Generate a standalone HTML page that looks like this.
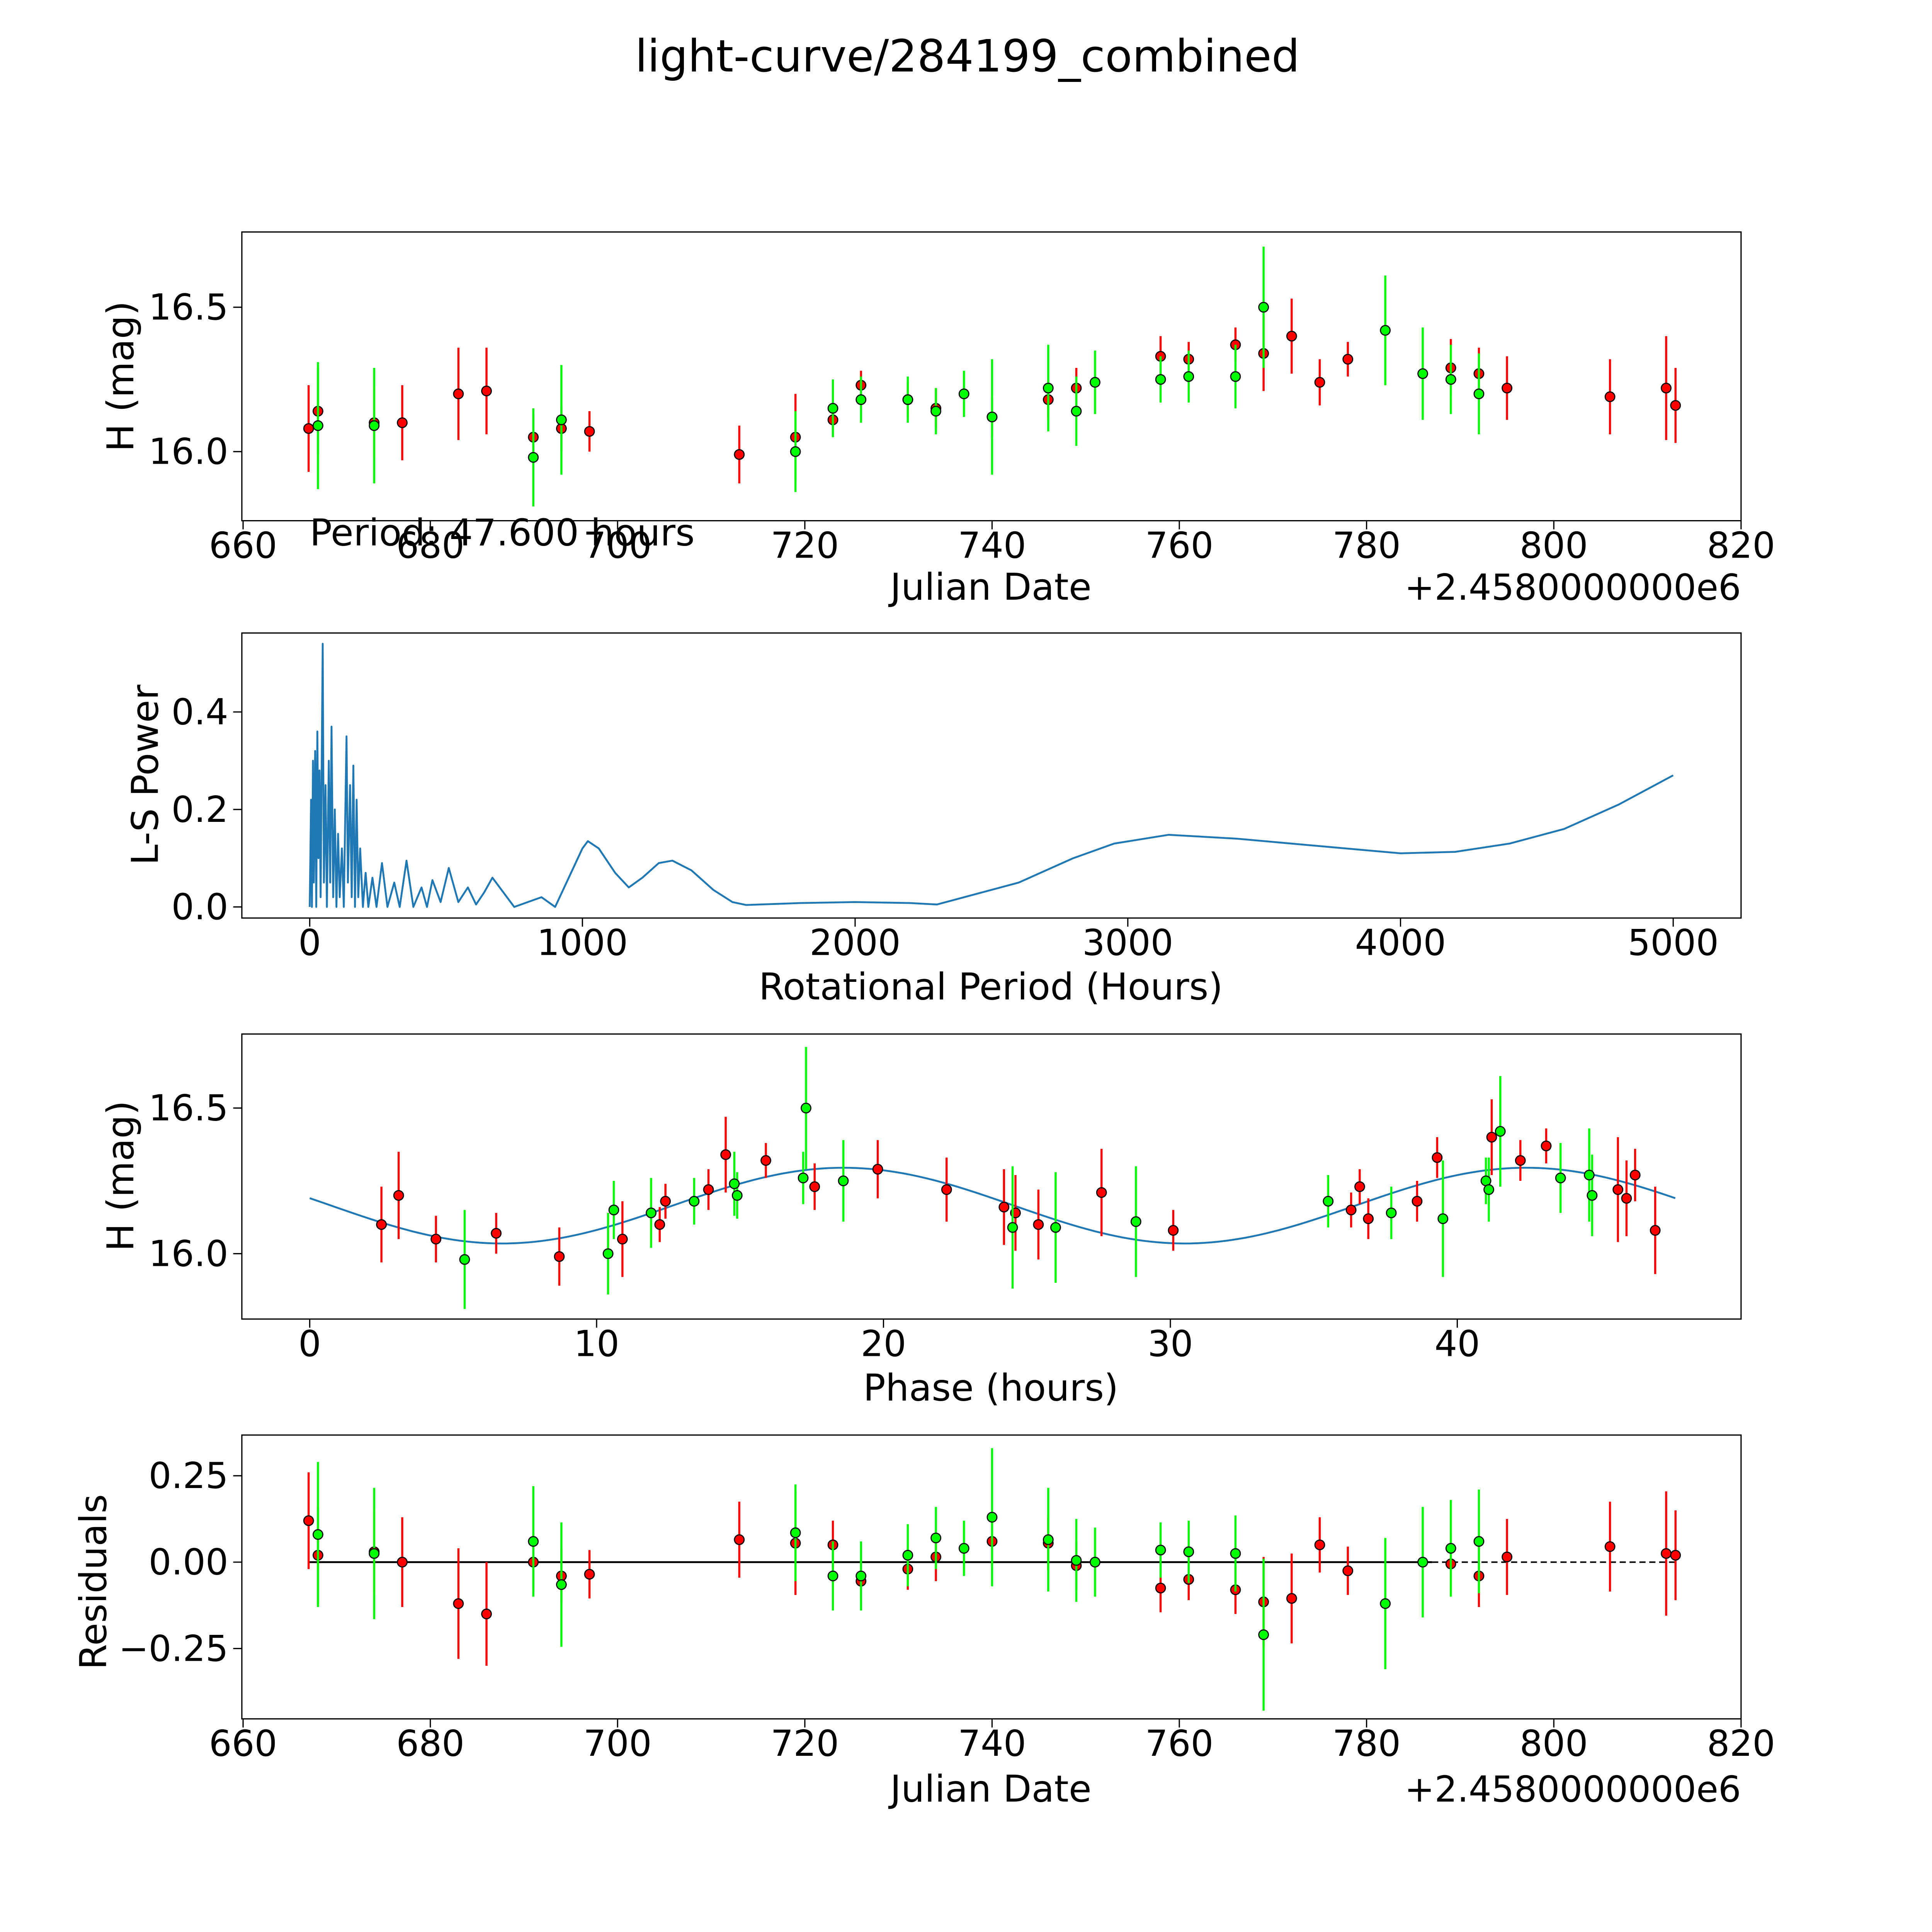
<!DOCTYPE html>
<html><head><meta charset="utf-8"><style>
html,body{margin:0;padding:0;background:#fff;overflow:hidden;width:5400px;height:5400px}
svg{display:block}
text{font-family:"DejaVu Sans","Liberation Sans",sans-serif;fill:#000}
</style></head><body>
<svg id="fig" width="5400" height="5400" viewBox="0 0 1691 1691" xmlns="http://www.w3.org/2000/svg">
<rect width="1691" height="1691" fill="#fff"/>
<text x="784" y="58" font-size="36" text-anchor="middle">light-curve/284199_combined</text>
</svg>
<script>
// ---- Data ----
const lcRed = [[667,16.08,0.15],[668,16.14,0.15],[674,16.1,0.12],[677,16.1,0.13],[683,16.2,0.16],[686,16.21,0.15],[691,16.05,0.08],[694,16.08,0.08],[697,16.07,0.07],[713,15.99,0.1],[719,16.05,0.15],[723,16.11,0.06],[726,16.23,0.05],[731,16.18,0.06],[734,16.15,0.07],[740,16.12,0.07],[746,16.18,0.07],[749,16.22,0.07],[758,16.33,0.07],[761,16.32,0.06],[766,16.37,0.06],[769,16.34,0.13],[772,16.4,0.13],[775,16.24,0.08],[778,16.32,0.06],[789,16.29,0.1],[792,16.27,0.09],[795,16.22,0.11],[806,16.19,0.13],[812,16.22,0.18],[813,16.16,0.13]];
const lcGreen = [[668,16.09,0.22],[674,16.09,0.2],[691,15.98,0.17],[694,16.11,0.19],[719,16.0,0.14],[723,16.15,0.1],[726,16.18,0.08],[731,16.18,0.08],[734,16.14,0.08],[737,16.2,0.08],[740,16.12,0.2],[746,16.22,0.15],[749,16.14,0.12],[751,16.24,0.11],[758,16.25,0.08],[761,16.26,0.09],[766,16.26,0.11],[769,16.5,0.21],[782,16.42,0.19],[786,16.27,0.16],[789,16.25,0.12],[792,16.2,0.14]];
const lsPeriod = [0,5,8,12,15,20,24,28,32,36,40,47.6,52,58,63,70,75,80,86,92,98,104,110,118,125,135,140,148,154,160,166,172,178,185,195,205,215,230,245,265,285,310,330,355,380,410,430,450,480,510,545,580,610,640,670,710,750,800,850,900,950,1000,1020,1060,1120,1170,1220,1280,1330,1400,1480,1550,1600,1800,2000,2200,2300,2400,2600,2800,2950,3150,3400,3700,4000,4200,4400,4600,4800,5000];
const lsPower = [0,0.22,0,0.3,0.05,0.32,0,0.36,0.1,0.28,0.02,0.54,0.05,0.25,0,0.3,0.05,0.37,0.02,0.2,0,0.15,0.02,0.12,0,0.35,0.05,0.25,0.02,0.29,0,0.22,0.02,0.12,0,0.07,0,0.06,0,0.09,0,0.05,0,0.095,0,0.04,0,0.055,0.01,0.08,0.01,0.04,0.005,0.03,0.06,0.03,0,0.01,0.02,0,0.06,0.12,0.135,0.12,0.07,0.04,0.06,0.09,0.095,0.075,0.035,0.01,0.004,0.008,0.01,0.008,0.005,0.02,0.05,0.1,0.13,0.148,0.14,0.125,0.11,0.113,0.13,0.16,0.21,0.27];
const phRed = [[2.5,16.1,0.13],[3.1,16.2,0.15],[4.4,16.05,0.08],[6.5,16.07,0.07],[8.7,15.99,0.1],[10.9,16.05,0.13],[12.2,16.1,0.06],[12.4,16.18,0.06],[13.9,16.22,0.07],[14.5,16.34,0.13],[15.9,16.32,0.06],[17.6,16.23,0.08],[19.8,16.29,0.1],[22.2,16.22,0.11],[24.2,16.16,0.13],[24.6,16.14,0.13],[25.4,16.1,0.12],[27.6,16.21,0.15],[30.1,16.08,0.07],[36.3,16.15,0.06],[36.6,16.23,0.06],[36.9,16.12,0.07],[38.6,16.18,0.07],[39.3,16.33,0.07],[41.2,16.4,0.13],[42.2,16.32,0.07],[43.1,16.37,0.06],[45.6,16.22,0.18],[45.9,16.19,0.13],[46.2,16.27,0.09],[46.9,16.08,0.15]];
const phGreen = [[5.4,15.98,0.17],[10.4,16.0,0.14],[10.6,16.15,0.1],[11.9,16.14,0.12],[13.4,16.18,0.08],[14.8,16.24,0.11],[14.9,16.2,0.08],[17.2,16.26,0.09],[17.3,16.5,0.21],[18.6,16.25,0.14],[24.5,16.09,0.21],[26.0,16.09,0.19],[28.8,16.11,0.19],[35.5,16.18,0.09],[37.7,16.14,0.09],[39.5,16.12,0.2],[41.0,16.25,0.08],[41.1,16.22,0.11],[41.5,16.42,0.19],[43.6,16.26,0.12],[44.6,16.27,0.16],[44.7,16.2,0.14]];
const fitParams = [16.165, 0.13, 23.8, 18.6]; // mean, amplitude, sub-period, peak phase
const fitPeriod = 47.6;
const resRed = [[667,0.12,0.14],[668,0.02,0.14],[674,0.03,0.12],[677,0.0,0.13],[683,-0.12,0.16],[686,-0.15,0.15],[691,0.0,0.08],[694,-0.04,0.08],[697,-0.035,0.07],[713,0.065,0.11],[719,0.055,0.15],[723,0.05,0.07],[726,-0.055,0.05],[731,-0.02,0.06],[734,0.015,0.07],[740,0.06,0.07],[746,0.055,0.08],[749,-0.01,0.07],[758,-0.075,0.07],[761,-0.05,0.06],[766,-0.08,0.07],[769,-0.115,0.13],[772,-0.105,0.13],[775,0.05,0.08],[778,-0.025,0.07],[789,-0.005,0.09],[792,-0.04,0.09],[795,0.015,0.11],[806,0.045,0.13],[812,0.025,0.18],[813,0.02,0.13]];
const resGreen = [[668,0.08,0.21],[674,0.025,0.19],[691,0.06,0.16],[694,-0.065,0.18],[719,0.085,0.14],[723,-0.04,0.1],[726,-0.04,0.1],[731,0.02,0.09],[734,0.07,0.09],[737,0.04,0.08],[740,0.13,0.2],[746,0.065,0.15],[749,0.005,0.12],[751,0.0,0.1],[758,0.035,0.08],[761,0.03,0.09],[766,0.025,0.11],[769,-0.21,0.22],[782,-0.12,0.19],[786,0.0,0.16],[789,0.04,0.14],[792,0.06,0.15]];
const jdTicks = [660,680,700,720,740,760,780,800,820];
const magTicks = [16.0,16.5];
const lsXTicks = [0,1000,2000,3000,4000,5000];
const lsYTicks = [0.0,0.2,0.4];
const phXTicks = [0,10,20,30,40];
const resYTicks = [-0.25,0.0,0.25];

const NS="http://www.w3.org/2000/svg";
const fig=document.getElementById('fig');
function mk(tag,attrs,parent){const e=document.createElementNS(NS,tag);for(const k in attrs)e.setAttribute(k,attrs[k]);(parent||fig).appendChild(e);return e;}
function lin(d0,d1,p0,p1){return v=>p0+(v-d0)*(p1-p0)/(d1-d0);}
const L=196,R=1411,TF=29,LF=30;

function axesBox(name,top,bot){
  const g=mk('g',{});
  
  
  return g;
}
function frame(g,top,bot){
  const r=mk('rect',{x:L,y:top,width:R-L,height:bot-top,fill:'none',stroke:'#000','stroke-width':1},g);
  
  
}
function xticks(g,ticks,sx,bot,fmt){
  ticks.forEach(t=>{const x=sx(t);
    mk('line',{x1:x,x2:x,y1:bot,y2:bot+7,stroke:'#000','stroke-width':1},g);
    const tx=mk('text',{x:x,y:bot+30,'font-size':TF,'text-anchor':'middle'},g);tx.textContent=fmt(t);
    
    });
}
function yticks(g,ticks,sy,fmt){
  ticks.forEach(t=>{const y=sy(t);
    mk('line',{x1:L-7,x2:L,y1:y,y2:y,stroke:'#000','stroke-width':1},g);
    const tx=mk('text',{x:L-11,y:y+10,'font-size':TF,'text-anchor':'end'},g);tx.textContent=fmt(t);
    
    });
}
function label(g,txt,x,y,rot,name){
  const t=mk('text',{x:x,y:y,'font-size':LF,'text-anchor':'middle',transform:rot?`rotate(-90 ${x} ${y})`:''},g);
  t.textContent=txt;
  
  
}
function points(g,arr,sx,sy,col,name){
  arr.forEach(p=>{mk('line',{x1:sx(p[0]),x2:sx(p[0]),y1:sy(p[1]-p[2]),y2:sy(p[1]+p[2]),stroke:col,'stroke-width':1.7},g);});
  arr.forEach(p=>{const c=mk('circle',{cx:sx(p[0]),cy:sy(p[1]),r:3.9,fill:col,stroke:'#000','stroke-width':0.9},g);
    
    });
}
const minus=s=>s.replace('-','\u2212');
function offset(g,y){
  const o=mk('text',{x:1411,y:y,'font-size':TF,'text-anchor':'end'},g);o.textContent='+2.4580000000e6';
  
  
}

// Panel 1
{const top=188,bot=422;const g=axesBox('light-curve-panel',top,bot);
 const sx=lin(660,820,197,1411), sy=lin(16.0,16.5,366,249);
 points(g,lcRed,sx,sy,'#ff0000','red-point');points(g,lcGreen,sx,sy,'#00ff00','green-point');
 frame(g,top,bot);xticks(g,jdTicks,sx,bot,t=>String(t));yticks(g,magTicks,sy,t=>t.toFixed(1));
 label(g,'Julian Date',803,486,false,'x-axis-title');label(g,'H (mag)',108,305,true,'y-axis-title');
 offset(g,486);
 const p=mk('text',{x:251,y:442,'font-size':LF},g);p.textContent='Period: 47.600 hours';
 
 }

// Panel 2
{const top=513,bot=744;const g=axesBox('periodogram-panel',top,bot);
 const sx=lin(0,5000,251,1356), sy=lin(0,0.4,735,577);
 const d=lsPeriod.map((v,i)=>(i?'L':'M')+sx(v).toFixed(2)+','+sy(lsPower[i]).toFixed(2)).join('');
 const pl=mk('path',{d:d,fill:'none',stroke:'#1f77b4','stroke-width':1.5,'stroke-linejoin':'round'},g);
 
 
 frame(g,top,bot);xticks(g,lsXTicks,sx,bot,t=>String(t));yticks(g,lsYTicks,sy,t=>t.toFixed(1));
 label(g,'Rotational Period (Hours)',803,810,false,'x-axis-title');label(g,'L-S Power',128,628,true,'y-axis-title');}

// Panel 3
{const top=838,bot=1069;const g=axesBox('phase-panel',top,bot);
 const sx=lin(0,40,251,1181), sy=lin(16.0,16.5,1016,898);
 let d='';for(let i=0;i<=200;i++){const x=fitPeriod*i/200;const y=fitParams[0]+fitParams[1]*Math.cos(2*Math.PI*(x-fitParams[3])/fitParams[2]);d+=(i?'L':'M')+sx(x).toFixed(2)+','+sy(y).toFixed(2);}
 const f=mk('path',{d:d,fill:'none',stroke:'#1f77b4','stroke-width':1.5},g);
 
 
 points(g,phRed,sx,sy,'#ff0000','red-point');points(g,phGreen,sx,sy,'#00ff00','green-point');
 frame(g,top,bot);xticks(g,phXTicks,sx,bot,t=>String(t));yticks(g,magTicks,sy,t=>t.toFixed(1));
 label(g,'Phase (hours)',803,1135,false,'x-axis-title');label(g,'H (mag)',108,953,true,'y-axis-title');}

// Panel 4
{const top=1163,bot=1393;const g=axesBox('residuals-panel',top,bot);
 const sx=lin(660,820,197,1411), sy=lin(0,0.25,1266,1196);
 const z1=mk('line',{x1:sx(667),x2:sx(787),y1:sy(0),y2:sy(0),stroke:'#000','stroke-width':1.5},g);
 
 
 const z2=mk('line',{x1:sx(787),x2:sx(813),y1:sy(0),y2:sy(0),stroke:'#000','stroke-width':1.2,'stroke-dasharray':'5,3'},g);
 
 
 points(g,resRed,sx,sy,'#ff0000','red-point');points(g,resGreen,sx,sy,'#00ff00','green-point');
 frame(g,top,bot);xticks(g,jdTicks,sx,bot,t=>String(t));yticks(g,resYTicks,sy,t=>minus(t.toFixed(2)));
 label(g,'Julian Date',803,1460,false,'x-axis-title');label(g,'Residuals',86,1282,true,'y-axis-title');
 offset(g,1460);}
</script>
</body></html>
